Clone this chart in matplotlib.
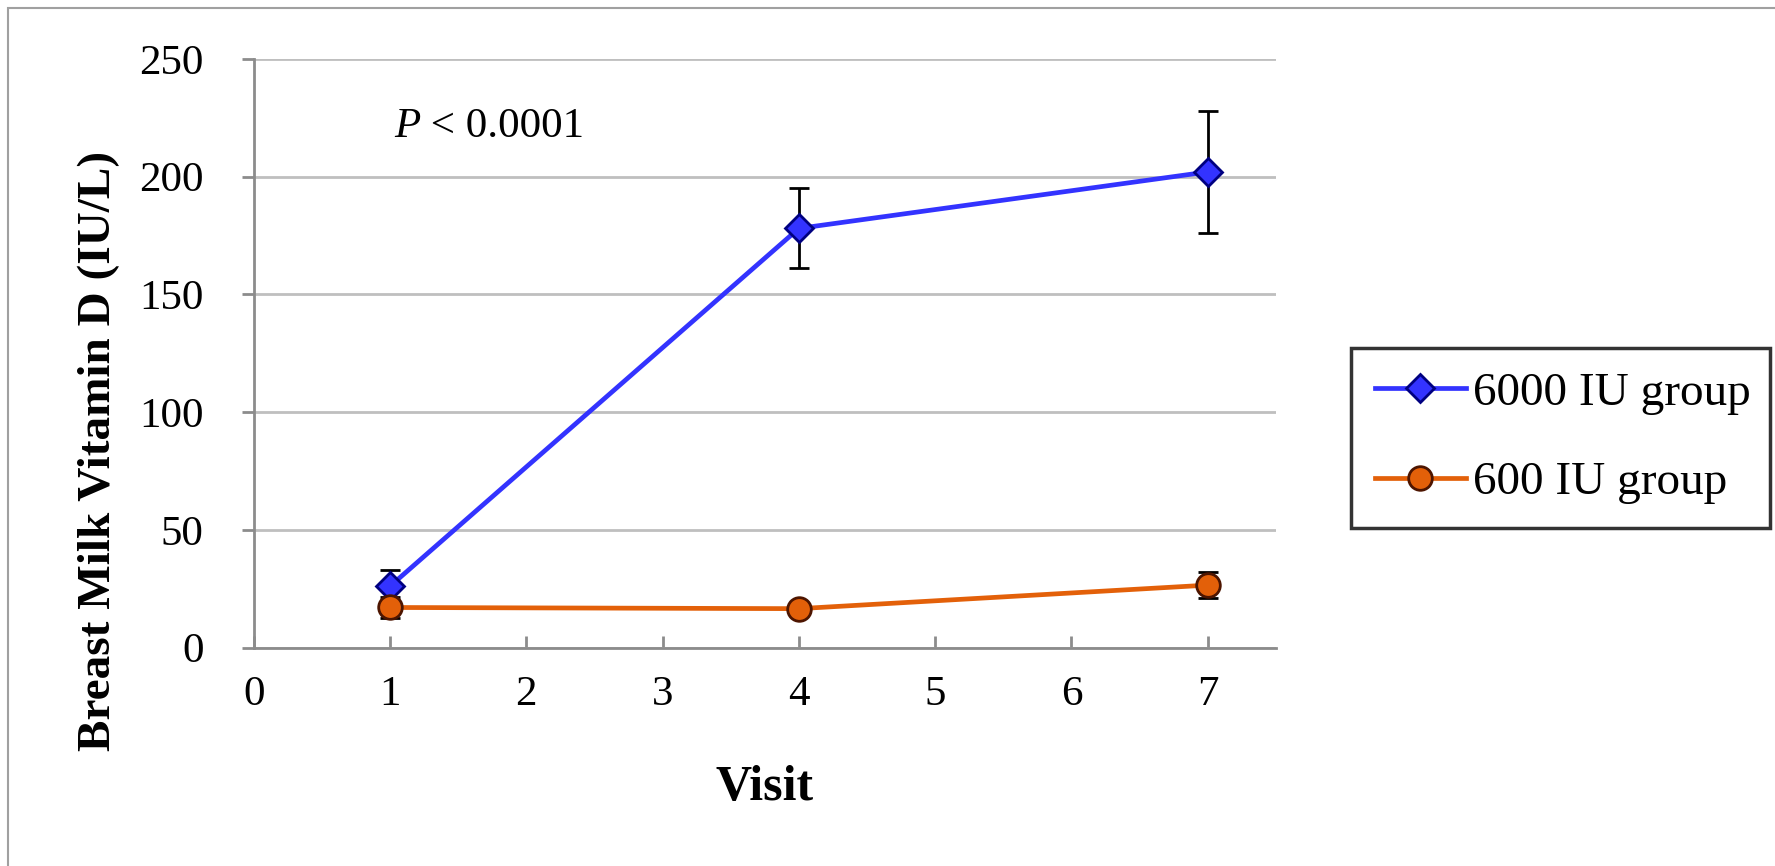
import matplotlib
matplotlib.use("Agg")
import matplotlib.pyplot as plt
from matplotlib.patches import Rectangle

visits = [1, 4, 7]
high_mean = [26, 178, 202]
high_err = [7, 17, 26]
low_mean = [17, 16.5, 26.5]
low_err = [4.5, 2, 5.5]
labels = ["6000 IU group", "600 IU group"]
xticks = [0, 1, 2, 3, 4, 5, 6, 7]
yticks = [0, 50, 100, 150, 200, 250]

plt.rcParams['font.family'] = ['Liberation Serif', 'DejaVu Serif']

W, H = 1775, 866
fig = plt.figure(figsize=(W / 100, H / 100), dpi=100)
ax = fig.add_axes([0.1429, 0.2523, 0.5759, 0.6797])

# outer frame
fig.patches.append(Rectangle((8 / W, -0.1), 1.2, 1 - 8 / H + 0.1, transform=fig.transFigure,
                             fill=False, edgecolor='#a0a0a0', linewidth=1.5))

ax.set_xlim(0, 7.5)
ax.set_ylim(0, 250)
ax.set_yticks(yticks)
ax.set_xticks(xticks)
ax.grid(axis='y', color='#bfbfbf', linewidth=2)
ax.set_axisbelow(True)
for s in ['top', 'right']:
    ax.spines[s].set_visible(False)
for s in ['left', 'bottom']:
    ax.spines[s].set_color('#8c8c8c')
    ax.spines[s].set_linewidth(2)
ax.tick_params(axis='y', direction='out', length=9, width=2, color='#8c8c8c', pad=27, labelsize=31)
ax.tick_params(axis='x', direction='in', length=9, width=2, color='#8c8c8c', pad=20, labelsize=31)

ax.errorbar(visits, high_mean, yerr=high_err, fmt='none', ecolor='black', elinewidth=2,
            capsize=7, capthick=2, zorder=3)
ax.errorbar(visits, low_mean, yerr=low_err, fmt='none', ecolor='black', elinewidth=2,
            capsize=7, capthick=2, zorder=3)
ax.plot(visits, high_mean, color='#3333ff', linewidth=3.4, marker='D', markersize=14,
        markerfacecolor='#3333ff', markeredgecolor='#000080', markeredgewidth=2, label=labels[0], zorder=4)
ax.plot(visits, low_mean, color='#e36009', linewidth=3.4, marker='o', markersize=17,
        markerfacecolor='#e36009', markeredgecolor='#4d1500', markeredgewidth=2, label=labels[1], zorder=4)

ptxt = ax.text(1.03, 221, 'P', fontsize=31, fontstyle='italic', va='center', ha='left')
ax.annotate(' < 0.0001', xy=(1, 0), xycoords=ptxt, fontsize=31, va='bottom', ha='left')

ax.set_xlabel('Visit', fontsize=36, fontweight='bold')
ax.xaxis.set_label_coords(0.5, -0.259)
ax.xaxis.label.set_va('baseline')
ax.set_ylabel('Breast Milk Vitamin D (IU/L)', fontsize=34, fontweight='bold')
ax.yaxis.set_label_coords(-0.1405, 0.334)
ax.yaxis.label.set_va('baseline')
ax.yaxis.label.set_ha('center')

leg_top, leg_bot = 351, 525
leg = ax.legend(loc='center left',
                bbox_to_anchor=(1351 / W, 1 - leg_bot / H, (1770 - 1351) / W, (leg_bot - leg_top) / H),
                bbox_transform=fig.transFigure, mode='expand', fontsize=34, frameon=True, fancybox=False,
                edgecolor='black', handlelength=1.93, handletextpad=0.15, labelspacing=0.99, borderpad=0.5,
                borderaxespad=0)
leg.get_frame().set_linewidth(2.5)

fig.savefig('out.png', dpi=100)
